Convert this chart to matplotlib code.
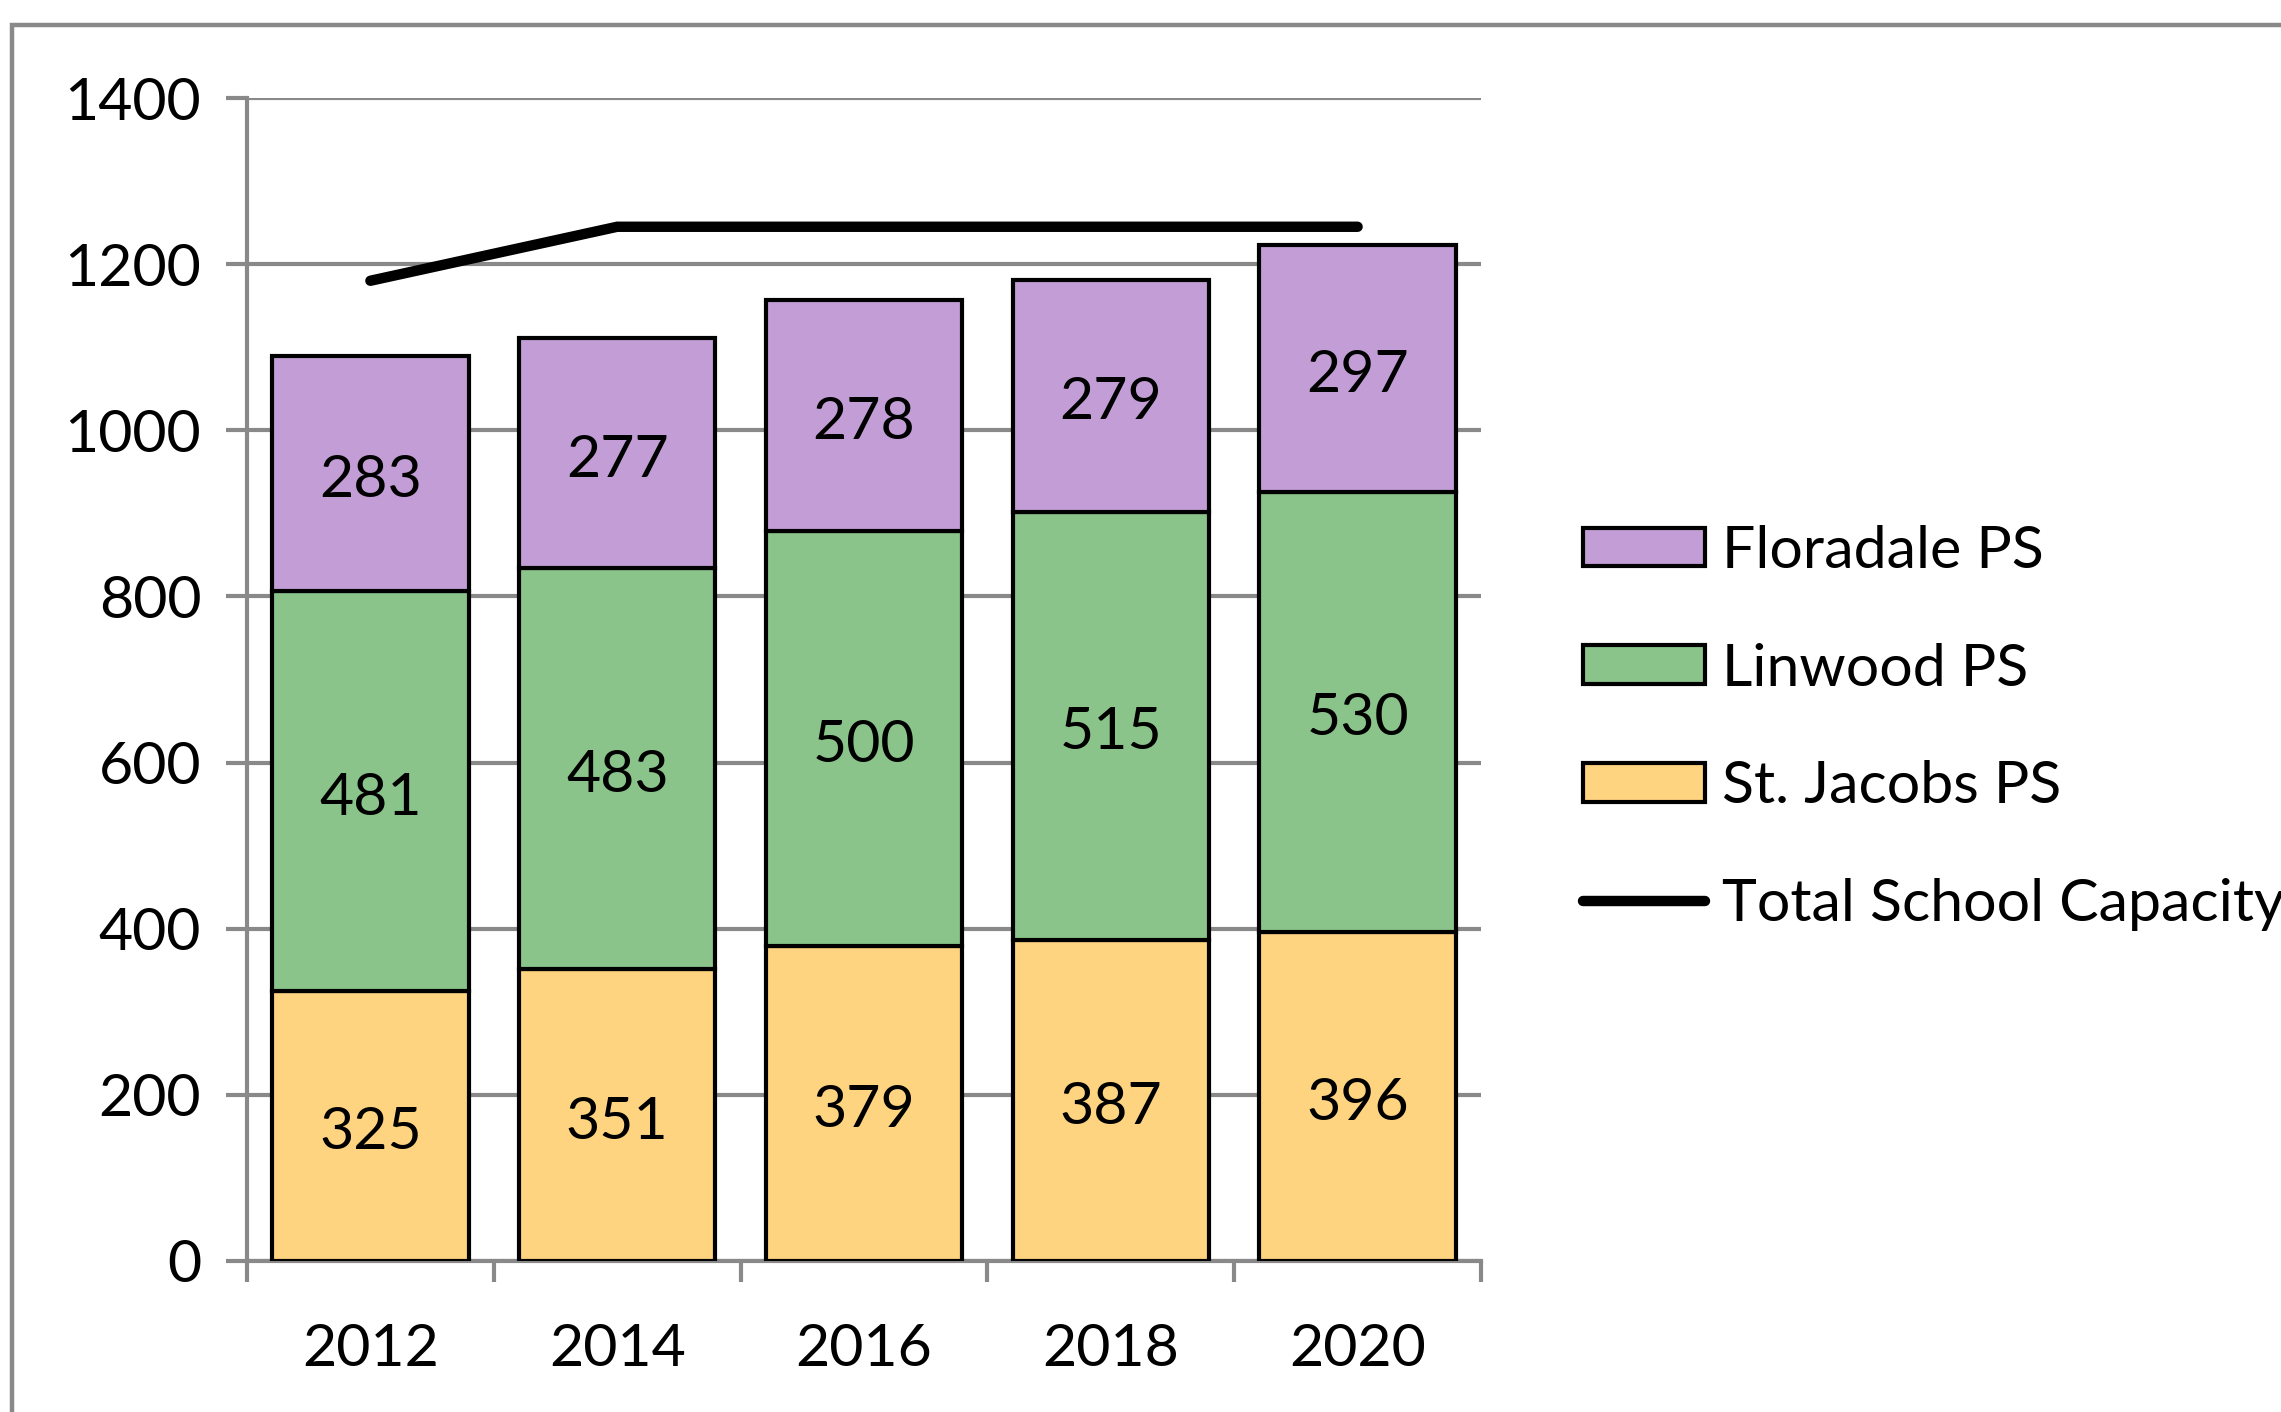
import matplotlib
matplotlib.use("Agg")
import matplotlib.pyplot as plt
from matplotlib.patches import Rectangle
from matplotlib.transforms import offset_copy
import numpy as np

years = ["2012", "2014", "2016", "2018", "2020"]
st_jacobs = [325, 351, 379, 387, 396]
linwood = [481, 483, 500, 515, 530]
floradale = [283, 277, 278, 279, 297]
capacity = [1180, 1245, 1245, 1245, 1245]
yticks = [0, 200, 400, 600, 800, 1000, 1200, 1400]

c_yellow = "#FED480"
c_green = "#8AC48A"
c_purple = "#C29DD6"
grid_c = "#898989"

plt.rcParams['font.family'] = ['Lato', 'DejaVu Sans']
FS = 42.5

W, H = 2281, 1412
fig = plt.figure(figsize=(W / 100, H / 100), dpi=100)

# outer chart border
fig.patches.append(Rectangle((12 / W, -0.1), 1.2, 1 - 25 / H + 0.1, transform=fig.transFigure,
                             fill=False, edgecolor=grid_c, linewidth=3.2, zorder=0))

ax = fig.add_axes([247 / W, 1 - 1261 / H, (1481 - 247) / W, (1261 - 98) / H])
x = np.arange(len(years))
bw = 0.795
ew = 3.0
b1 = ax.bar(x, st_jacobs, bw, color=c_yellow, edgecolor="black", linewidth=ew, label="St. Jacobs PS", zorder=3)
bottom2 = np.array(st_jacobs)
b2 = ax.bar(x, linwood, bw, bottom=bottom2, color=c_green, edgecolor="black", linewidth=ew, label="Linwood PS", zorder=3)
bottom3 = bottom2 + np.array(linwood)
b3 = ax.bar(x, floradale, bw, bottom=bottom3, color=c_purple, edgecolor="black", linewidth=ew, label="Floradale PS", zorder=3)
ln, = ax.plot(x, capacity, color="black", linewidth=7.5, solid_capstyle="round", solid_joinstyle="miter",
              label="Total School Capacity", zorder=4)

lbl_tr = offset_copy(ax.transData, fig=fig, x=0, y=-5, units="points")
for bars, vals, bots in [(b1, st_jacobs, np.zeros(5)), (b2, linwood, bottom2), (b3, floradale, bottom3)]:
    for xi, v, b in zip(x, vals, bots):
        ax.text(xi, b + v / 2, str(v), ha="center", va="center", fontsize=FS, zorder=5, transform=lbl_tr)

ax.set_xlim(-0.5, len(years) - 0.5)
ax.set_ylim(0, 1400)
ax.set_yticks(yticks)
ax.set_yticklabels([str(t) for t in yticks], fontsize=FS)
ax.set_xticks(x)
ax.set_xticklabels(years, fontsize=FS)
ax.set_xticks(np.arange(-0.5, len(years)), minor=True)
ax.tick_params(axis="x", which="major", length=0, pad=45)
ax.tick_params(axis="x", which="minor", length=15, width=3, color=grid_c, direction="out")
ax.tick_params(axis="y", length=15, width=3, color=grid_c, direction="out", pad=18)
ax.yaxis.grid(True, color=grid_c, linewidth=3, zorder=0)
ax.set_axisbelow(True)
for s in ["top", "right"]:
    ax.spines[s].set_visible(False)
for s in ["left", "bottom"]:
    ax.spines[s].set_color(grid_c)
    ax.spines[s].set_linewidth(3)
    ax.spines[s].set_zorder(2)

leg = fig.legend([b3, b2, b1, ln], ["Floradale PS", "Linwood PS", "St. Jacobs PS", "Total School Capacity"],
                 loc="center left", bbox_to_anchor=(1583 / W, 1 - 728 / H), frameon=False, fontsize=FS,
                 handlelength=2.07, handleheight=0.63, handletextpad=0.28, labelspacing=1.1, borderpad=0,
                 borderaxespad=0)

fig.savefig("out.png", dpi=100)
